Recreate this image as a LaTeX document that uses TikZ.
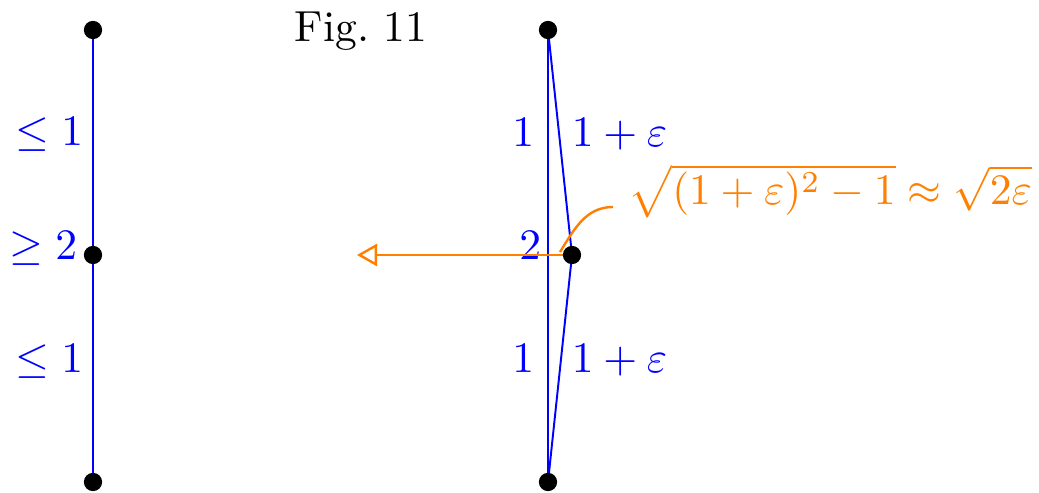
\documentclass[tikz,border=0pt]{standalone}
\usetikzlibrary{arrows.meta}
\begin{document}
\begin{tikzpicture}[x=0.23pt,y=-0.23pt,
  dot/.style={circle,fill=black,inner sep=0pt,minimum size=4.2pt},
  edge/.style={blue,line width=0.45pt},
  lab/.style={blue,inner sep=0pt},
  hint/.style={orange,line width=0.55pt},
  olab/.style={orange,inner sep=0pt}]
\useasboundingbox (0,0) rectangle (1039,493);
% left column
\coordinate (la) at (93,30);
\coordinate (lb) at (93,255);
\coordinate (lc) at (93,482);
\draw[edge] (la) -- (lc);
\node[lab,anchor=base east] (l1) at (84,146) {$\leq 1$};
\node[lab,anchor=base east] (l2) at (78,260) {$\geq 2$};
\node[lab,anchor=base east] (l3) at (84,373) {$\leq 1$};
% title
\node[anchor=base west,inner sep=0pt] (title) at (294,42) {Fig.~11};
% right figure
\coordinate (ta) at (548,30);
\coordinate (tm) at (572,255);
\coordinate (tb) at (548,482);
\draw[edge] (ta) -- (tb);
\draw[edge] (ta) -- (tm) -- (tb);
\node[lab,anchor=base east] (r1) at (535,147) {$1$};
\node[lab,anchor=base west] (r2) at (571,147) {$1+\varepsilon$};
\node[lab,anchor=base east] (r3) at (542,260) {$2$};
\node[lab,anchor=base east] (r4) at (535,373) {$1$};
\node[lab,anchor=base west] (r5) at (571,373) {$1+\varepsilon$};
% orange annotation
\coordinate (arrend) at (357,255);
\draw[hint,-{Triangle[open,length=4.6pt,width=5.1pt]}] (tm) -- (arrend);
\node[olab,anchor=base west] (form) at (628,205) {$\sqrt{(1+\varepsilon)^2-1}\approx\sqrt{2\varepsilon}$};
\coordinate (cs) at (560,252);
\coordinate (ce) at (613,207);
\draw[hint] (cs) to[out=58,in=180] (ce);
% dots
\node[dot] (da) at (la) {};
\node[dot] (db) at (lb) {};
\node[dot] (dc) at (lc) {};
\node[dot] (ea) at (ta) {};
\node[dot] (em) at (tm) {};
\node[dot] (eb) at (tb) {};
\end{tikzpicture}
\end{document}
